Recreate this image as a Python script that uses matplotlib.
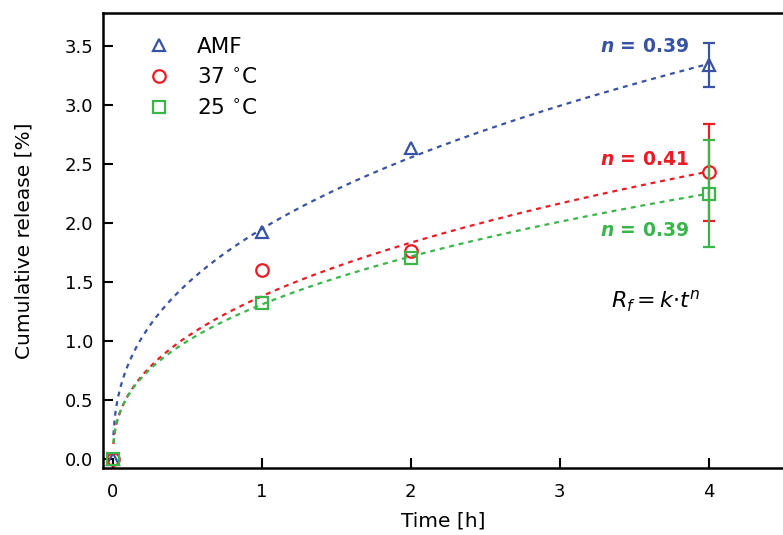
import numpy as np
import matplotlib.pyplot as plt

plt.rcParams['font.family'] = ['DejaVu Sans']
plt.rcParams['mathtext.fontset'] = 'dejavusans'

# measured points
time_h = [0, 1, 2, 4]
amf = [0.0, 1.92, 2.64, 3.34]
c37 = [0.0, 1.60, 1.76, 2.43]
c25 = [0.0, 1.32, 1.70, 2.25]

# error bars only at the last point
err_time = [4]
amf_err = [0.19]
c37_err = [0.41]
c25_err = [0.45]

# fitted power law R = k * t^n
k_vals = [1.95, 1.38, 1.31]
n_vals = [0.39, 0.41, 0.39]

labels = ['AMF', '37 $^{\\circ}$C', '25 $^{\\circ}$C']
colors_ = ['#3853a4', '#ec1c24', '#39b54a']
markers = ['^', 'o', 's']

fig = plt.figure(figsize=(7.83, 5.35), dpi=100)
ax = fig.add_axes([0.1315, 0.1252, 0.8685, 0.8505])

t_fit = np.linspace(0.003, 4, 400)
series = [amf, c37, c25]
errs = [amf_err, c37_err, c25_err]

for vals, err, k, n, lab, col, mk in zip(series, errs, k_vals, n_vals, labels, colors_, markers):
    ax.plot(t_fit, k * t_fit ** n, color=col, lw=1.6, ls=(0, (2.2, 2.2)))
    ax.errorbar(err_time, [vals[-1]], yerr=err, fmt='none', ecolor=col,
                elinewidth=1.6, capsize=4.5, capthick=1.6)
    ax.plot(time_h, vals, ls='none', marker=mk, markersize=9, mfc='none',
            mec=col, mew=1.6, label=lab)

ax.set_xlim(-0.067, 4.5)
ax.set_ylim(-0.076, 3.78)
ax.set_xticks([0, 1, 2, 3, 4])
ax.set_yticks(np.arange(0, 3.51, 0.5))
ax.set_yticklabels([f'{v:.1f}' for v in np.arange(0, 3.51, 0.5)])
ax.tick_params(direction='in', length=7, width=1.5, labelsize=13, pad=7)
ax.tick_params(axis='x', pad=11)
ax.spines['right'].set_visible(False)
for s in ['left', 'bottom', 'top']:
    ax.spines[s].set_linewidth(1.8)

ax.set_xlabel('Time [h]', fontsize=14.5, labelpad=7)
ax.set_ylabel('Cumulative release [%]', fontsize=14.5, labelpad=22)

leg = ax.legend(loc='upper left', bbox_to_anchor=(0.022, 0.99), frameon=False,
                fontsize=15.5, handletextpad=0.75, labelspacing=0.5)

# n annotations
n_pos = [3.5, 2.54, 1.94]
for n, y, col in zip(n_vals, n_pos, colors_):
    ax.text(3.87, y, f'$\\mathbfit{{n}}$ = {n:.2f}', color=col, fontsize=13.5,
            fontweight='bold', ha='right', va='center')

ax.text(3.95, 1.34, '$R_f = k{\\cdot}t^n$', fontsize=16, ha='right', va='center')

fig.savefig('out.png', dpi=100)
